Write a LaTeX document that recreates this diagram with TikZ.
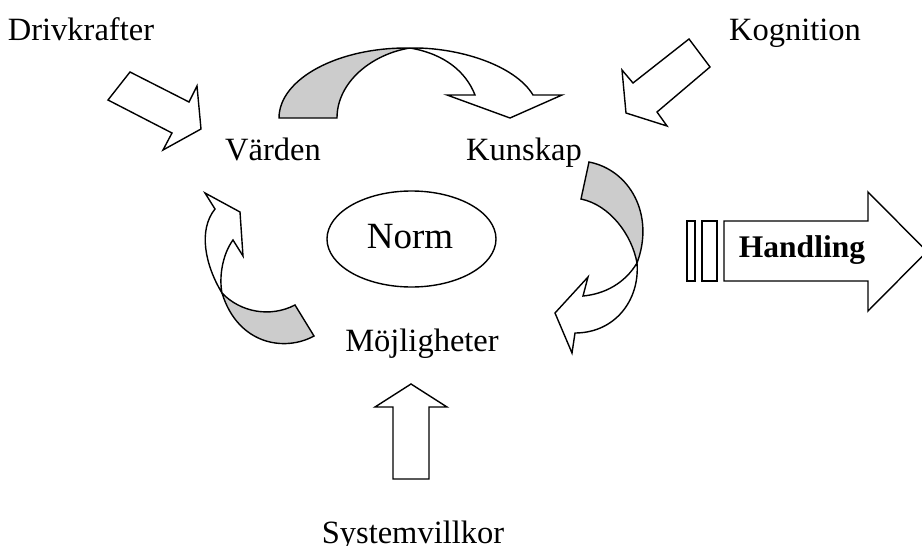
\documentclass[tikz,border=0pt]{standalone}
\usepackage{fontspec}
\setmainfont{Liberation Serif}
\usetikzlibrary{shapes.geometric}
\tikzset{
  shp/.style={draw=black, line width=1.4pt, fill=white, line join=miter},
  back/.style={draw=black, line width=1.4pt, fill=black!20, line join=miter},
  lbl/.style={inner sep=0pt, anchor=base, font=\fontsize{32.5}{39}\selectfont},
}
\begin{document}
\begin{tikzpicture}[x=1pt,y=-1pt]
\useasboundingbox (0,0) rectangle (922,546);

% labels
\node[lbl] (driv) at (81,40) {Drivkrafter};
\node[lbl] (kogn) at (795,40) {Kognition};
\node[lbl] (vard) at (273,160) {Värden};
\node[lbl] (kuns) at (524,160) {Kunskap};
\node[lbl] (moj) at (422,351) {Möjligheter};
\node[lbl] (sys) at (413,543) {Systemvillkor};

% Norm ellipse
\node[draw, line width=1.4pt, ellipse, minimum width=169pt, minimum height=96pt, inner sep=0pt] (normell) at (411.5,239) {};
\node[lbl, font=\fontsize{37}{44}\selectfont] (norm) at (410,248) {Norm};

% Drivkrafter arrow
\draw[shp] (130,72) -- (189,102) -- (197,86) -- (201,129) -- (163,150) -- (172,133) -- (108,100) -- cycle;
% Kognition arrow
\draw[shp] (689,39) -- (710,67) -- (657,112) -- (667,126) -- (626,113) -- (622,70) -- (633,83) -- cycle;
% Systemvillkor arrow
\draw[shp] (393,479) -- (393,407) -- (375,407) -- (411,384) -- (447,407) -- (429,407) -- (429,479) -- cycle;

% top curved arrow
\draw[back] (279,118) .. controls (279,79) and (338,47) .. (410,48)
  .. controls (372,54) and (337,82) .. (337,118) -- cycle;
\draw[shp] (410,48) .. controls (458,47) and (515,65) .. (533,95)
  -- (562,95) -- (510,118) -- (447,95) -- (475,95)
  .. controls (466,72) and (445,54) .. (410,48) -- cycle;

% right curved arrow
\draw[back] (589,162) .. controls (630,170) and (655,215) .. (637,263)
  .. controls (632,235) and (610,205) .. (581,199) -- cycle;
\draw[shp] (637,263) .. controls (640,300) and (615,333) .. (575,333)
  -- (572,353) -- (555,313) -- (588,277) -- (583,296)
  .. controls (605,294) and (625,283) .. (637,263) -- cycle;

% left curved arrow
\draw[back] (295,305) .. controls (270,318) and (240,312) .. (222,293)
  .. controls (238,345) and (285,352) .. (314,336) -- cycle;
\draw[shp] (222,293) .. controls (205,265) and (198,230) .. (215,209)
  -- (205,193) -- (240,212) -- (243,256) -- (233,240)
  .. controls (222,255) and (219,278) .. (222,293) -- cycle;

% Handling arrow
\draw[shp] (687,221) rectangle (695,281);
\draw[shp] (702,221) rectangle (717,281);
\draw[shp] (724,221) -- (868,221) -- (868,192) -- (927,251.5) -- (868,311) -- (868,281) -- (724,281) -- cycle;
\node[lbl, font=\bfseries\fontsize{31.5}{38}\selectfont] (hand) at (802,257) {Handling};
\end{tikzpicture}
\end{document}
